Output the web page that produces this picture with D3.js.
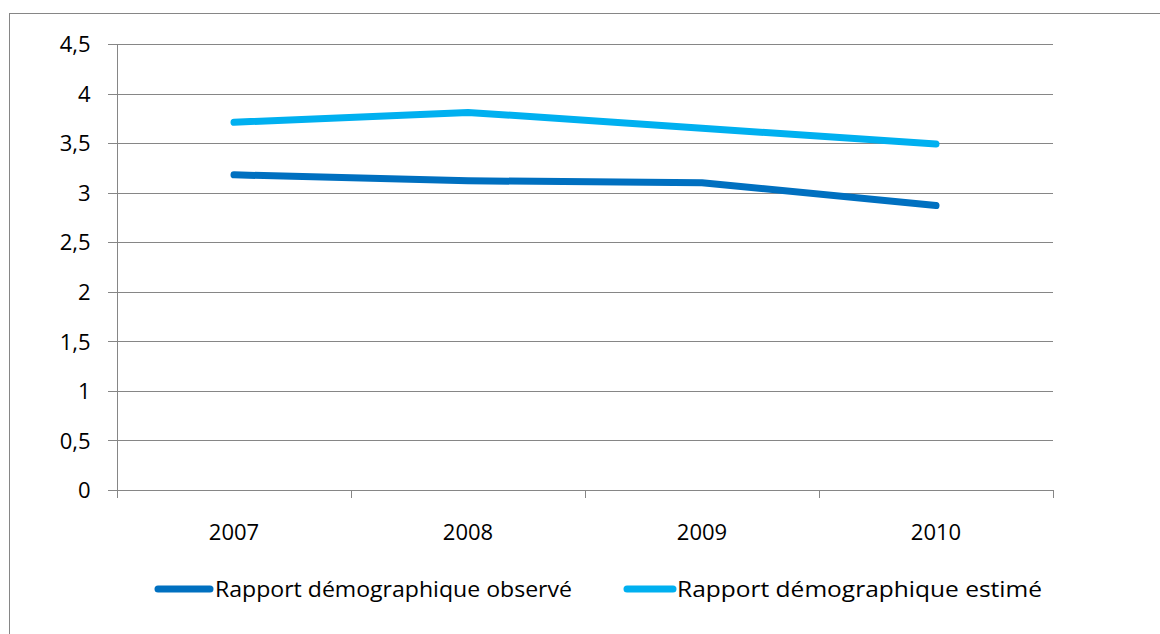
<!DOCTYPE html>
<html><head><meta charset="utf-8">
<script src="https://cdnjs.cloudflare.com/ajax/libs/d3/7.8.5/d3.min.js"></script>
<style>body{margin:0;background:#fff}svg{display:block}text{font-family:"Open Sans",sans-serif;fill:#000}</style>
</head><body><svg id="c" width="1160" height="634"></svg>
<script>
const categories = ["2007","2008","2009","2010"];
const observed = [3.18, 3.12, 3.10, 2.87];
const estimated = [3.71, 3.81, 3.65, 3.49];
const yTicks = [0,0.5,1,1.5,2,2.5,3,3.5,4,4.5];
const seriesNames = ["Rapport démographique observé","Rapport démographique estimé"];
const colors = ["#0070C0","#00B0F0"];

const svg = d3.select("#c");
svg.append("rect").attr("x",9.5).attr("y",13.5).attr("width",1200).attr("height",700)
  .attr("fill","#fff").attr("stroke","#868686").attr("stroke-width",1);

const L=117,R=1053,T=44,B=490;
const x = d3.scaleBand().domain(categories).range([L,R]);
const y = d3.scaleLinear().domain([0,4.5]).range([B,T]);
const fmt = d => String(d).replace(".",",");

svg.append("g").selectAll("line").data(yTicks).join("line")
  .attr("x1",L-9).attr("x2",R).attr("y1",d=>Math.round(y(d))+0.5).attr("y2",d=>Math.round(y(d))+0.5)
  .attr("stroke","#868686").attr("stroke-width",1);
const yAxis = svg.append("g").attr("transform",`translate(${L+0.5},0)`)
  .call(d3.axisLeft(y).tickValues(yTicks).tickFormat(fmt).tickSize(0).tickPadding(27));
yAxis.select(".domain").attr("stroke","#868686").attr("d",`M0,${T}V${B}`);
yAxis.selectAll("text").attr("font-size",22).attr("dy","0.35em").attr("font-family","Open Sans");
const xAxis = svg.append("g").attr("transform",`translate(0,${Math.round(B)+0.5})`)
  .call(d3.axisBottom(x).tickSize(0).tickPadding(0));
xAxis.select(".domain").remove();
xAxis.selectAll("text").attr("font-size",22).attr("font-family","Open Sans").attr("dy",0).attr("y",49);
const xt = categories.map(c=>x(c)).concat([R]);
svg.append("g").selectAll("line").data(xt).join("line")
  .attr("x1",d=>Math.round(d)+0.5).attr("x2",d=>Math.round(d)+0.5)
  .attr("y1",B).attr("y2",B+8).attr("stroke","#868686");

const line = d3.line().x((d,i)=>x(categories[i])+x.bandwidth()/2).y(d=>y(d));
[observed,estimated].forEach((s,i)=>{
  svg.append("path").attr("d",line(s)).attr("fill","none").attr("stroke",colors[i])
    .attr("stroke-width",7).attr("stroke-linecap","round").attr("stroke-linejoin","round");
});

const leg = [{x1:158,x2:210,tx:215,w:357},{x1:627,x2:673,tx:677,w:365}];
seriesNames.forEach((n,i)=>{
  const g = svg.append("g");
  g.append("line").attr("x1",leg[i].x1).attr("x2",leg[i].x2).attr("y1",589).attr("y2",589)
    .attr("stroke",colors[i]).attr("stroke-width",7).attr("stroke-linecap","round");
  g.append("text").attr("x",leg[i].tx).attr("y",597).attr("font-size",22)
    .attr("textLength",leg[i].w).attr("lengthAdjust","spacingAndGlyphs").text(n);
});
</script></body></html>
